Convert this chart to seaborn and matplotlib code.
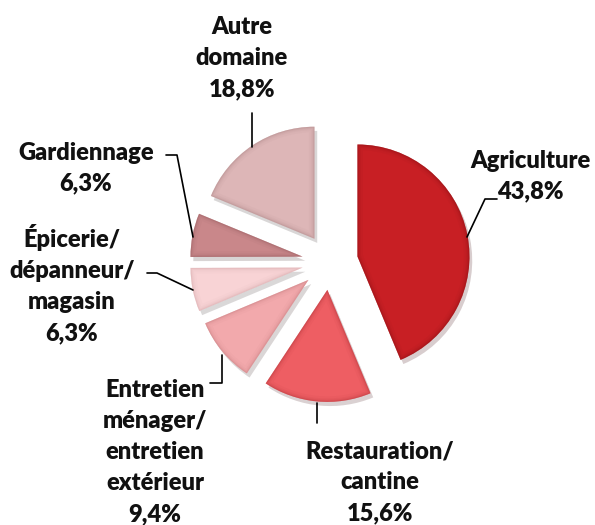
import matplotlib.pyplot as plt
import matplotlib.patheffects as pe
from matplotlib.patches import Wedge
import seaborn as sns

# ------------------- Data -------------------
categories = ['Agriculture', 'Restauration/\ncantine',
              'Entretien\nménager/\nentretien\nextérieur',
              'Épicerie/\ndépanneur/\nmagasin', 'Gardiennage', 'Autre\ndomaine']
shares = [43.8, 15.6, 9.4, 6.3, 6.3, 18.8]
share_labels = ['43,8%', '15,6%', '9,4%', '6,3%', '6,3%', '18,8%']

colors = ['#C81F24', '#EE5E63', '#F2A9AC', '#F8D3D5', '#C9878A', '#DDB6B7']
edges = ['#8E1216', '#B8383D', '#C98083', '#D7A9AB', '#9A5E61', '#B08A8B']

W, H = 595, 525

sns.set_theme(style='white')
plt.rcParams['font.family'] = ['Lato', 'DejaVu Sans']

fig = plt.figure(figsize=(W / 100, H / 100), dpi=100)
ax = fig.add_axes([0, 0, 1, 1])

# explode is in data units here (pixels)
wedges, _ = ax.pie(shares, startangle=90, counterclock=False,
                   center=(330, H - 262), radius=112,
                   explode=[28] * len(shares), colors=colors,
                   wedgeprops=dict(linewidth=0))
for w, ec in zip(wedges, edges):
    w.set_path_effects([pe.SimplePatchShadow(offset=(2, -3), alpha=0.2),
                        pe.Normal()])
    # soft bevel: rim darkens gradually towards the edge
    for lw, a in [(8, 0.07), (5, 0.1), (3, 0.15), (1.5, 0.3)]:
        rim = Wedge(w.center, w.r, w.theta1, w.theta2, facecolor='none',
                    edgecolor=ec, linewidth=lw, alpha=a)
        ax.add_patch(rim)
        rim.set_clip_path(w)

# pie() resets the limits, so set them afterwards
ax.set_xlim(0, W)
ax.set_ylim(0, H)
ax.set_aspect('equal')
ax.axis('off')

# ------------------- Labels (image coords, y down) -------------------
label_pos = [(530, 176), (380, 482), (155, 452), (72, 284), (86, 168), (242, 58)]
leaders = [
    [(497, 199), (485, 199), (467, 237)],
    [(317, 423), (317, 403)],
    [(210, 383), (222, 383), (222, 355)],
    [(147, 273), (157, 273), (193, 290)],
    [(166, 155), (177, 155), (193, 237)],
    [(252, 113), (252, 147)],
]

for cat, pct, (x, y) in zip(categories, share_labels, label_pos):
    ax.text(x, H - y, f'{cat}\n{pct}', ha='center', va='center',
            fontsize=17, fontweight='heavy', color='#111111', linespacing=1.5)

for pts in leaders:
    xs = [p[0] for p in pts]
    ys = [H - p[1] for p in pts]
    ax.plot(xs, ys, color='black', linewidth=1.2)

fig.savefig('out.png', dpi=100)
